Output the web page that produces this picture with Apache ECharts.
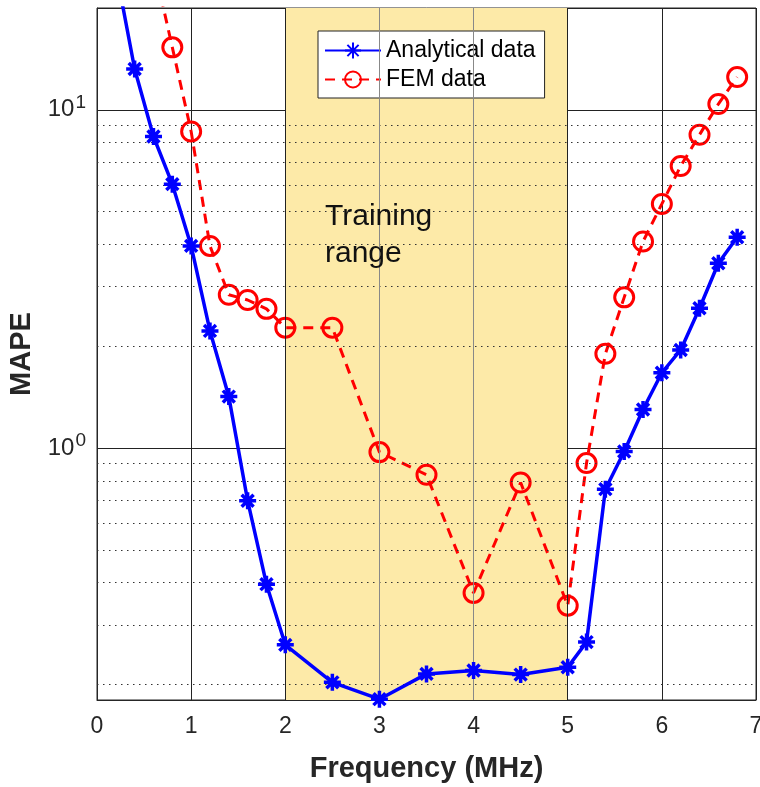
<!DOCTYPE html>
<html>
<head>
<meta charset="utf-8">
<script src="https://cdn.jsdelivr.net/npm/echarts@6/dist/echarts.min.js"></script>
<style>
  html, body { margin: 0; padding: 0; background: #fff; }
  #chart { width: 760px; height: 787px; }
</style>
</head>
<body>
<div id="chart"></div>
<script>
// frequency in MHz
const freqAnalytical = [0.2, 0.4, 0.6, 0.8, 1.0, 1.2, 1.4, 1.6, 1.8, 2.0, 2.5, 3.0, 3.5, 4.0, 4.5, 5.0, 5.2, 5.4, 5.6, 5.8, 6.0, 6.2, 6.4, 6.6, 6.8]
const mapeAnalytical = [26, 13.2, 8.34, 6.03, 3.96, 2.22, 1.42, 0.699, 0.396, 0.262, 0.203, 0.181, 0.215, 0.22, 0.214, 0.225, 0.267, 0.756, 0.977, 1.3, 1.67, 1.95, 2.59, 3.52, 4.2]

const freqFEM = [0.6, 0.8, 1.0, 1.2, 1.4, 1.6, 1.8, 2.0, 2.5, 3.0, 3.5, 4.0, 4.5, 5.0, 5.2, 5.4, 5.6, 5.8, 6.0, 6.2, 6.4, 6.6, 6.8]
const mapeFEM = [27, 15.3, 8.63, 3.96, 2.84, 2.74, 2.58, 2.27, 2.27, 0.973, 0.834, 0.373, 0.791, 0.342, 0.903, 1.9, 2.79, 4.08, 5.27, 6.82, 8.44, 10.4, 12.5]

const trainingRange = [2, 5]
const minorGridValues = [0.2, 0.3, 0.4, 0.5, 0.6, 0.7, 0.8, 0.9, 2, 3, 4, 5, 6, 7, 8, 9]
const innerVLines = [2, 3, 4, 5]

const asterisk = 'path://M10,0 L10,20 M0,10 L20,10 M3,3 L17,17 M3,17 L17,3'
const fontFam = 'Liberation Sans, Arial, sans-serif'

let mychart = echarts.init(document.getElementById('chart'))

function zipPts(xs, ys) {
  return xs.map((x, i) => [x, ys[i]])
}

let option = {
  animation: false,
  grid: {
    left: 97,
    right: 4,
    top: 8,
    bottom: 87,
    outerBoundsMode: 'none',
    containLabel: false,
    show: true,
    borderColor: '#262626',
    borderWidth: 1
  },
  legend: {
    orient: 'vertical',
    left: 318,
    top: 31,
    padding: [8, 9, 7, 6],
    itemGap: 6,
    itemWidth: 56,
    itemHeight: 20,
    backgroundColor: '#fff',
    borderColor: '#222',
    borderWidth: 1,
    borderRadius: 0,
    textStyle: { fontSize: 23, color: '#000', fontFamily: fontFam },
    data: ['Analytical data', 'FEM data']
  },
  xAxis: {
    type: 'value',
    min: 0,
    max: 7,
    interval: 1,
    name: 'Frequency (MHz)',
    nameLocation: 'middle',
    nameGap: 54,
    nameTextStyle: { fontSize: 29, fontWeight: 'bold', color: '#262626', fontFamily: fontFam },
    axisLine: { show: true, lineStyle: { color: '#262626' } },
    axisTick: { show: true, inside: true, length: 6, lineStyle: { color: '#262626' } },
    axisLabel: { fontSize: 23, color: '#262626', margin: 15, fontFamily: fontFam },
    splitLine: { show: true, lineStyle: { color: '#222', width: 1 } }
  },
  yAxis: {
    type: 'log',
    logBase: 10,
    min: 0.18,
    max: 20,
    name: 'MAPE',
    nameLocation: 'middle',
    nameGap: 60,
    nameTextStyle: { fontSize: 29, fontWeight: 'bold', color: '#262626', fontFamily: fontFam },
    axisLine: { show: true, lineStyle: { color: '#262626' } },
    axisTick: { show: false },
    axisLabel: {
      margin: 11,
      color: '#262626',
      fontFamily: fontFam,
      formatter: function (v) {
        let e = Math.log10(v)
        if (Math.abs(e - Math.round(e)) > 1e-6) return ''
        return '{b|10}{s|' + Math.round(e) + '}'
      },
      rich: {
        b: { fontSize: 24, color: '#262626', fontFamily: fontFam },
        s: { fontSize: 19, color: '#262626', verticalAlign: 'top', padding: [0, 0, 14, 1], fontFamily: fontFam }
      }
    },
    splitLine: { show: true, lineStyle: { color: '#222', width: 1 } }
  },
  graphic: [
    {
      type: 'text',
      left: 325,
      top: 198,
      z: 10,
      style: {
        text: 'Training\nrange',
        fontSize: 30,
        lineHeight: 37,
        fill: '#111',
        fontFamily: fontFam
      }
    }
  ],
  series: [
    {
      name: 'minorGrid',
      type: 'line',
      data: [],
      z: 1,
      silent: true,
      markLine: {
        silent: true,
        symbol: 'none',
        label: { show: false },
        lineStyle: { color: '#333', type: [1.5, 4.5], width: 1 },
        data: minorGridValues.map(v => ({ yAxis: v }))
      }
    },
    {
      name: 'shade',
      type: 'line',
      data: [],
      z: 2,
      silent: true,
      markArea: {
        silent: true,
        itemStyle: { color: '#fdeaa8' },
        data: [[{ xAxis: trainingRange[0] }, { xAxis: trainingRange[1] }]]
      }
    },
    {
      name: 'vgrid',
      type: 'line',
      data: [],
      z: 3,
      silent: true,
      markLine: {
        silent: true,
        symbol: 'none',
        label: { show: false },
        data: innerVLines.map(v => ({
          xAxis: v,
          lineStyle: { color: (v === 2 || v === 5) ? '#222' : '#888', type: 'solid', width: 1 }
        }))
      }
    },
    {
      name: 'FEM data',
      type: 'line',
      z: 4,
      data: zipPts(freqFEM, mapeFEM),
      symbol: 'circle',
      symbolSize: 19,
      clip: true,
      lineStyle: { color: '#ff0000', width: 3, type: [10, 7] },
      itemStyle: { color: 'rgba(0,0,0,0)', borderColor: '#ff0000', borderWidth: 3 }
    },
    {
      name: 'Analytical data',
      type: 'line',
      z: 5,
      data: zipPts(freqAnalytical, mapeAnalytical),
      symbol: asterisk,
      symbolSize: 17,
      clip: true,
      lineStyle: { color: '#0000ff', width: 3.5 },
      itemStyle: { color: '#0000ff', borderColor: '#0000ff', borderWidth: 3.5 }
    }
  ]
}
mychart.setOption(option)
</script>
</body>
</html>
